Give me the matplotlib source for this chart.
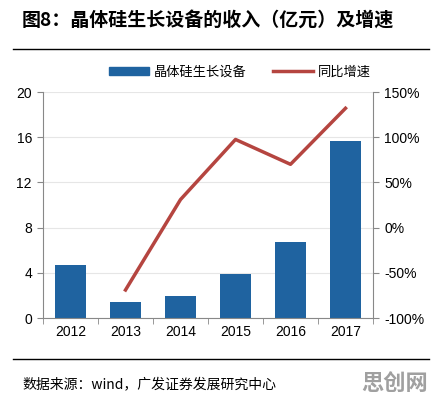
import matplotlib
matplotlib.use("Agg")
import matplotlib.pyplot as plt
from matplotlib.lines import Line2D
from matplotlib.patches import Patch
import numpy as np

plt.rcParams['font.family'] = ['Liberation Sans', 'Noto Sans CJK SC', 'DejaVu Sans']

years = ['2012', '2013', '2014', '2015', '2016', '2017']
revenue = [4.7, 1.45, 1.95, 3.9, 6.7, 15.65]
growth_years = ['2013', '2014', '2015', '2016', '2017']
growth = [-69, 31, 97.5, 70, 132]
left_ticks = [0, 4, 8, 12, 16, 20]
right_ticks = [-100, -50, 0, 50, 100, 150]

bar_color = '#1F63A0'
line_color = '#B54540'
cjk = ['Noto Sans CJK SC', 'DejaVu Sans']

fig = plt.figure(figsize=(4.34, 4.0), dpi=100)
W, H = 434, 400
ax = fig.add_axes([43 / W, 1 - 318 / H, (373 - 43) / W, (318 - 92) / H])

x = np.arange(len(years))
ax.bar(x, revenue, width=0.56, color=bar_color, zorder=2)
ax.set_xlim(-0.5, len(years) - 0.5)
ax.set_ylim(0, 20)
ax.set_yticks(left_ticks)
ax.set_xticks(x)
ax.set_xticklabels(years, fontsize=10)
ax.set_xticks(np.arange(len(years) + 1) - 0.5, minor=True)
ax.tick_params(axis='x', which='major', length=0, pad=5)
ax.tick_params(axis='x', which='minor', length=4, color='#888888')
ax.tick_params(axis='y', length=4, color='#888888', labelsize=10, pad=4)
ax.grid(axis='y', color='#E6E6E6', linewidth=0.8, zorder=0)
for s in ['top', 'right']:
    ax.spines[s].set_visible(False)
for s in ['left', 'bottom']:
    ax.spines[s].set_color('#888888')

ax2 = ax.twinx()
gx = [years.index(y) for y in growth_years]
ax2.plot(gx, growth, color=line_color, linewidth=2.5, zorder=3)
ax2.set_ylim(-100, 150)
ax2.set_yticks(right_ticks)
ax2.set_yticklabels([f'{t}%' for t in right_ticks], fontsize=10)
ax2.tick_params(axis='y', length=4, color='#888888', pad=4)
for s in ['top', 'left', 'bottom']:
    ax2.spines[s].set_visible(False)
ax2.spines['right'].set_color('#888888')

# title and decoration
fig.text(22 / W, 1 - 20 / H, '图8：晶体硅生长设备的收入（亿元）及增速', fontsize=13.7,
         fontweight='bold', family=cjk, va='center', ha='left')
fig.add_artist(Line2D([13 / W, 429 / W], [1 - 49 / H, 1 - 49 / H], color='black', lw=1))
fig.add_artist(Line2D([13 / W, 429 / W], [1 - 359 / H, 1 - 359 / H], color='black', lw=1))

handles = [Patch(color=bar_color), Line2D([0], [0], color=line_color, lw=2.5)]
leg = fig.legend(handles, ['晶体硅生长设备', '同比增速'], loc='center',
                 bbox_to_anchor=(240 / W, 1 - 72 / H), ncol=2, frameon=False,
                 prop={'family': cjk, 'size': 9.5}, handlelength=3.0, handleheight=0.6,
                 columnspacing=2.0, handletextpad=0.4)

fig.text(22 / W, 1 - 384 / H, '数据来源：wind，广发证券发展研究中心', fontsize=10,
         family=cjk, va='center', ha='left')
fig.text(428 / W, 1 - 383 / H, '思创网', fontsize=16, fontweight='bold',
         family=cjk, color='#A0A0A0', va='center', ha='right')

fig.savefig('out.png', dpi=100)
